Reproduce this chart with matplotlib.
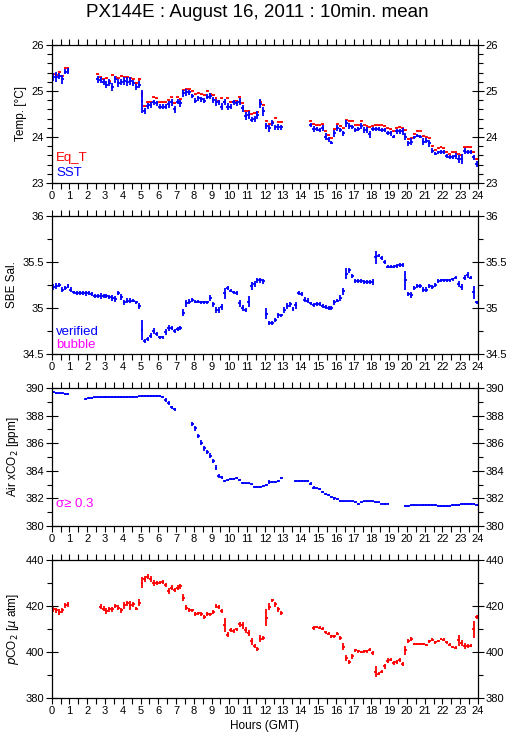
import numpy as np
import matplotlib
matplotlib.use("Agg")
import matplotlib.pyplot as plt
from matplotlib.ticker import MultipleLocator

nan = np.nan

# 10-minute means, slot 0 = 00:00-00:10 GMT
slots = np.arange(144)
hours = (slots + 0.5) / 6.0

# Temperature (deg C)
sst = [25.30, 25.31, 25.33, 25.25, 25.42, 25.44, nan, nan, nan, nan,
       nan, nan, nan, nan, nan, 25.25, 25.24, 25.20, 25.14, 25.18,
       25.09, 25.25, 25.17, 25.20, 25.22, 25.20, 25.22, 25.17, 25.09, 25.14,
       24.78, 24.57, 24.67, 24.70, 24.75, 24.73, 24.66, 24.66, 24.66, 24.71,
       24.75, 24.60, 24.77, 24.73, 24.95, 24.97, 24.97, 24.89, 24.79, 24.84,
       24.82, 24.79, 24.88, 24.89, 24.80, 24.75, 24.75, 24.66, 24.76, 24.66,
       24.66, 24.75, 24.73, 24.77, 24.62, 24.46, 24.48, 24.38, 24.39, 24.48,
       24.72, 24.56, 24.24, 24.19, 24.30, 24.21, 24.22, 24.21, nan, nan,
       nan, nan, nan, nan, nan, nan, nan, 24.26, 24.17, 24.17,
       24.15, 24.19, 24.01, 23.95, 23.88, 24.08, 24.19, 24.15, 24.08, 24.30,
       24.24, 24.21, 24.15, 24.17, 24.24, 24.15, 24.15, 24.06, 24.17, 24.17,
       24.17, 24.15, 24.15, 24.08, 24.08, 24.01, 24.12, 24.12, 24.12, 24.01,
       23.86, 23.90, 23.99, 24.03, 24.01, 23.90, 23.92, 23.86, 23.70, 23.64,
       23.67, 23.68, 23.68, 23.59, 23.56, 23.57, 23.59, 23.52, 23.52, 23.70,
       23.68, 23.68, 23.56, 23.41]
sst_sd = [0.09, 0.11, 0.07, 0.09, 0.06, 0.06, nan, nan, nan, nan,
          nan, nan, nan, nan, nan, 0.08, 0.07, 0.06, 0.07, 0.08,
          0.08, 0.08, 0.08, 0.07, 0.09, 0.10, 0.08, 0.07, 0.06, 0.08,
          0.25, 0.06, 0.07, 0.06, 0.06, 0.06, 0.06, 0.06, 0.06, 0.07,
          0.08, 0.08, 0.06, 0.07, 0.07, 0.08, 0.05, 0.05, 0.05, 0.06,
          0.05, 0.05, 0.06, 0.06, 0.07, 0.07, 0.06, 0.08, 0.06, 0.07,
          0.06, 0.06, 0.06, 0.08, 0.07, 0.09, 0.09, 0.06, 0.06, 0.09,
          0.10, 0.10, 0.07, 0.08, 0.06, 0.06, 0.06, 0.06, nan, nan,
          nan, nan, nan, nan, nan, nan, nan, 0.04, 0.06, 0.05,
          0.05, 0.07, 0.07, 0.05, 0.03, 0.08, 0.06, 0.05, 0.06, 0.08,
          0.07, 0.04, 0.05, 0.05, 0.07, 0.07, 0.07, 0.08, 0.05, 0.04,
          0.05, 0.05, 0.05, 0.04, 0.05, 0.04, 0.05, 0.05, 0.07, 0.07,
          0.05, 0.08, 0.04, 0.03, 0.04, 0.07, 0.05, 0.07, 0.05, 0.04,
          0.03, 0.04, 0.04, 0.04, 0.04, 0.04, 0.06, 0.08, 0.10, 0.07,
          0.04, 0.04, 0.05, 0.07]
eqt = [25.38, 25.35, 25.42, 25.33, 25.51, 25.51, nan, nan, nan, nan,
       nan, nan, nan, nan, nan, 25.36, 25.30, 25.25, 25.28, 25.22,
       25.35, 25.30, 25.28, 25.33, 25.30, 25.30, 25.28, 25.25, 25.18, 25.25,
       24.93, 24.67, 24.77, 24.77, 24.86, 24.84, 24.75, 24.75, 24.75, 24.80,
       24.86, 24.73, 24.86, 24.82, 25.02, 25.04, 25.04, 25.01, 24.93, 24.95,
       24.93, 24.91, 25.01, 24.93, 24.91, 24.84, 24.79, 24.84, 24.77, 24.84,
       24.77, 24.77, 24.79, 24.88, 24.73, 24.57, 24.57, 24.51, 24.53, 24.55,
       24.77, 24.70, 24.35, 24.28, 24.33, 24.42, 24.33, 24.33, nan, nan,
       nan, nan, nan, nan, nan, nan, nan, 24.35, 24.28, 24.25,
       24.25, 24.28, 24.13, 24.04, 23.97, 24.17, 24.28, 24.24, 24.19, 24.37,
       24.35, 24.35, 24.26, 24.26, 24.35, 24.26, 24.24, 24.21, 24.24, 24.25,
       24.25, 24.26, 24.24, 24.19, 24.17, 24.12, 24.20, 24.22, 24.19, 24.15,
       23.96, 23.97, 24.07, 24.14, 24.13, 24.02, 23.99, 23.97, 23.80, 23.72,
       23.75, 23.79, 23.75, 23.68, 23.63, 23.67, 23.67, 23.63, 23.61, 23.78,
       23.79, 23.78, 23.67, 23.52]
eqt_sd = [0.01, 0.01, 0.01, 0.01, 0.01, 0.01, nan, nan, nan, nan,
          nan, nan, nan, nan, nan, 0.01, 0.01, 0.01, 0.01, 0.01,
          0.01, 0.01, 0.01, 0.01, 0.01, 0.01, 0.01, 0.01, 0.02, 0.03,
          0.05, 0.01, 0.01, 0.01, 0.01, 0.01, 0.01, 0.01, 0.01, 0.01,
          0.01, 0.01, 0.01, 0.01, 0.01, 0.01, 0.01, 0.01, 0.01, 0.01,
          0.01, 0.01, 0.02, 0.01, 0.01, 0.01, 0.01, 0.01, 0.01, 0.01,
          0.01, 0.01, 0.01, 0.02, 0.01, 0.01, 0.01, 0.01, 0.01, 0.01,
          0.03, 0.01, 0.01, 0.01, 0.01, 0.01, 0.01, 0.01, nan, nan,
          nan, nan, nan, nan, nan, nan, nan, 0.01, 0.01, 0.01,
          0.01, 0.01, 0.01, 0.01, 0.01, 0.01, 0.01, 0.01, 0.01, 0.01,
          0.01, 0.01, 0.01, 0.01, 0.01, 0.01, 0.01, 0.01, 0.01, 0.01,
          0.01, 0.01, 0.01, 0.01, 0.01, 0.01, 0.01, 0.01, 0.01, 0.01,
          0.01, 0.01, 0.01, 0.01, 0.01, 0.01, 0.01, 0.01, 0.01, 0.01,
          0.01, 0.01, 0.01, 0.01, 0.01, 0.01, 0.01, 0.01, 0.01, 0.01,
          0.01, 0.01, 0.01, 0.01]

# SBE salinity
sal = [35.23, 35.24, 35.25, 35.20, 35.22, 35.24, 35.20, 35.17, 35.16, 35.16,
       35.16, 35.16, 35.16, 35.15, 35.13, 35.13, 35.13, 35.13, 35.13, 35.12,
       35.11, 35.10, 35.16, 35.12, 35.06, 35.08, 35.08, 35.08, 35.06, 35.02,
       34.76, 34.64, 34.66, 34.70, 34.75, 34.72, 34.68, 34.68, 34.74, 34.78,
       34.78, 34.75, 34.77, 34.78, 34.95, 35.05, 35.07, 35.09, 35.07, 35.07,
       35.06, 35.06, 35.06, 35.11, 35.04, 34.98, 34.98, 35.01, 35.16, 35.22,
       35.19, 35.17, 35.16, 35.05, 35.00, 34.98, 35.07, 35.24, 35.26, 35.30,
       35.30, 35.29, 34.94, 34.84, 34.84, 34.87, 34.92, 34.92, 34.98, 35.02,
       35.04, 34.99, 35.03, 35.16, 35.15, 35.09, 35.08, 35.05, 35.03, 35.04,
       35.04, 35.02, 35.01, 35.00, 35.00, 35.06, 35.08, 35.11, 35.18, 35.37,
       35.41, 35.35, 35.29, 35.29, 35.29, 35.28, 35.28, 35.28, 35.28, 35.55,
       35.57, 35.54, 35.50, 35.45, 35.45, 35.45, 35.46, 35.47, 35.47, 35.30,
       35.15, 35.14, 35.22, 35.24, 35.24, 35.20, 35.20, 35.24, 35.23, 35.25,
       35.29, 35.30, 35.30, 35.30, 35.30, 35.31, 35.33, 35.26, 35.23, 35.33,
       35.36, 35.33, 35.17, 35.06]
sal_sd = [0.03, 0.03, 0.02, 0.03, 0.02, 0.02, 0.03, 0.02, 0.02, 0.02,
          0.02, 0.03, 0.02, 0.02, 0.02, 0.02, 0.03, 0.02, 0.02, 0.02,
          0.03, 0.03, 0.02, 0.03, 0.03, 0.03, 0.03, 0.02, 0.02, 0.03,
          0.11, 0.02, 0.02, 0.03, 0.03, 0.02, 0.02, 0.02, 0.03, 0.03,
          0.02, 0.02, 0.02, 0.02, 0.04, 0.04, 0.03, 0.02, 0.02, 0.02,
          0.02, 0.02, 0.02, 0.03, 0.03, 0.03, 0.03, 0.03, 0.06, 0.02,
          0.02, 0.02, 0.02, 0.04, 0.03, 0.02, 0.06, 0.04, 0.03, 0.03,
          0.03, 0.03, 0.06, 0.02, 0.02, 0.02, 0.03, 0.02, 0.03, 0.03,
          0.03, 0.02, 0.04, 0.02, 0.02, 0.03, 0.03, 0.02, 0.02, 0.02,
          0.02, 0.02, 0.02, 0.02, 0.02, 0.03, 0.02, 0.03, 0.04, 0.06,
          0.03, 0.02, 0.02, 0.02, 0.02, 0.02, 0.02, 0.02, 0.03, 0.07,
          0.02, 0.02, 0.02, 0.02, 0.02, 0.02, 0.02, 0.02, 0.02, 0.10,
          0.02, 0.03, 0.02, 0.02, 0.02, 0.03, 0.03, 0.02, 0.02, 0.02,
          0.02, 0.02, 0.02, 0.02, 0.02, 0.02, 0.02, 0.03, 0.03, 0.03,
          0.03, 0.02, 0.07, 0.02]

# Air xCO2 (ppm)
xco2 = [389.71, 389.66, 389.61, 389.61, 389.57, 389.57, nan, nan, nan, nan,
        nan, 389.18, 389.28, 389.30, 389.32, 389.32, 389.33, 389.33, 389.33, 389.34,
        389.34, 389.34, 389.35, 389.35, 389.35, 389.36, 389.36, 389.37, 389.38, 389.39,
        389.40, 389.41, 389.42, 389.42, 389.42, 389.41, 389.40, 389.37, 389.13, 388.89,
        388.60, 388.45, nan, nan, nan, nan, nan, 387.39, 387.08, 386.52,
        386.04, 385.63, 385.34, 385.10, 384.71, 384.23, 383.65, 383.53, 383.26, 383.33,
        383.38, 383.43, 383.45, 383.33, 383.14, 383.09, 383.09, 383.02, 382.85, 382.80,
        382.85, 382.90, 382.95, 383.19, 383.22, 383.16, 383.26, 383.49, nan, nan,
        nan, nan, 383.25, 383.25, 383.25, 383.27, 383.27, 383.08, 382.79, 382.72,
        382.67, 382.48, 382.31, 382.24, 382.12, 382.00, 381.95, 381.83, 381.78, 381.78,
        381.78, 381.78, 381.71, 381.59, 381.71, 381.78, 381.78, 381.78, 381.78, 381.71,
        381.71, 381.63, 381.59, 381.63, nan, nan, nan, nan, nan, 381.42,
        381.47, 381.49, 381.54, 381.49, 381.49, 381.54, 381.54, 381.54, 381.54, 381.54,
        381.47, 381.47, 381.47, 381.47, 381.47, 381.51, 381.54, 381.54, 381.59, 381.59,
        381.61, 381.61, 381.61, 381.54]
xco2_sd = [0.08, 0.06, 0.06, 0.06, 0.06, 0.06, nan, nan, nan, nan,
           nan, 0.08, 0.07, 0.06, 0.06, 0.06, 0.06, 0.06, 0.06, 0.06,
           0.06, 0.06, 0.06, 0.06, 0.06, 0.06, 0.06, 0.06, 0.06, 0.06,
           0.06, 0.06, 0.06, 0.06, 0.06, 0.06, 0.06, 0.08, 0.12, 0.14,
           0.12, 0.12, nan, nan, nan, nan, nan, 0.14, 0.16, 0.16,
           0.20, 0.16, 0.14, 0.16, 0.16, 0.20, 0.14, 0.09, 0.08, 0.07,
           0.07, 0.07, 0.07, 0.08, 0.07, 0.06, 0.06, 0.06, 0.07, 0.07,
           0.06, 0.07, 0.07, 0.12, 0.07, 0.07, 0.07, 0.08, nan, nan,
           nan, nan, 0.07, 0.06, 0.06, 0.06, 0.07, 0.12, 0.08, 0.07,
           0.08, 0.09, 0.08, 0.08, 0.09, 0.08, 0.07, 0.06, 0.06, 0.06,
           0.06, 0.06, 0.06, 0.09, 0.06, 0.06, 0.06, 0.06, 0.06, 0.06,
           0.06, 0.07, 0.08, 0.06, nan, nan, nan, nan, nan, 0.07,
           0.06, 0.06, 0.06, 0.06, 0.06, 0.06, 0.06, 0.06, 0.06, 0.06,
           0.06, 0.06, 0.06, 0.06, 0.06, 0.06, 0.06, 0.06, 0.06, 0.06,
           0.06, 0.06, 0.06, 0.07]

# pCO2 (uatm)
pco2 = [418.5, 418.1, 417.4, 418.1, 420.3, 420.7, nan, nan, nan, nan,
        nan, nan, nan, nan, nan, nan, 419.7, 418.8, 417.8, 418.5,
        418.5, 420.0, 419.3, 418.1, 420.3, 421.2, 420.3, 420.7, 418.8, 421.5,
        430.2, 431.7, 432.8, 431.7, 429.9, 429.9, 430.2, 430.5, 429.1, 426.6,
        428.0, 427.0, 428.0, 428.5, 423.6, 419.3, 418.2, 418.1, 416.4, 416.8,
        416.4, 415.3, 416.4, 416.4, 417.4, 420.0, 419.6, 417.8, 411.7, 407.6,
        409.5, 409.1, 409.8, 412.0, 411.7, 409.5, 408.3, 404.7, 402.5, 401.3,
        405.7, 406.1, 414.9, 419.7, 422.5, 420.7, 418.5, 417.1, nan, nan,
        nan, nan, nan, nan, nan, nan, nan, nan, 410.5, 410.9,
        410.5, 410.1, 408.6, 408.0, 406.9, 406.9, 408.0, 406.1, 402.2, 397.4,
        395.6, 398.1, 400.7, 400.3, 400.0, 400.3, 400.3, 401.0, 399.6, 391.5,
        390.5, 391.5, 393.7, 396.2, 396.6, 395.2, 395.6, 396.6, 394.9, 400.7,
        404.7, 405.7, 403.5, 403.5, 403.5, 403.5, 403.2, 404.7, 405.4, 404.2,
        404.7, 405.7, 405.4, 404.2, 403.2, 402.2, 401.8, 405.0, 403.9, 402.5,
        402.5, 402.8, 409.8, 415.2]
pco2_sd = [1.2, 1.0, 1.5, 1.2, 1.0, 1.0, nan, nan, nan, nan,
           nan, nan, nan, nan, nan, nan, 1.2, 1.0, 1.2, 1.0,
           1.2, 1.0, 1.0, 1.2, 1.5, 1.0, 2.0, 1.0, 0.6, 1.5,
           2.5, 1.2, 1.0, 1.2, 1.2, 0.8, 0.8, 1.0, 1.0, 1.2,
           1.2, 1.0, 1.2, 1.2, 1.5, 1.0, 0.8, 0.8, 0.8, 0.6,
           0.8, 0.8, 0.8, 0.6, 0.8, 1.0, 0.8, 1.0, 3.0, 1.0,
           1.0, 1.0, 0.8, 1.2, 1.5, 1.2, 1.2, 1.5, 0.8, 0.8,
           1.5, 1.0, 3.6, 1.5, 0.6, 1.0, 1.2, 0.8, nan, nan,
           nan, nan, nan, nan, nan, nan, nan, nan, 0.8, 0.6,
           0.6, 0.6, 0.6, 0.6, 0.6, 0.6, 0.8, 0.8, 1.5, 1.5,
           0.8, 1.0, 0.6, 0.6, 0.6, 0.6, 0.6, 0.6, 0.8, 2.5,
           0.6, 0.6, 1.2, 1.0, 0.6, 0.8, 0.8, 0.8, 0.8, 2.0,
           1.0, 0.8, 0.4, 0.4, 0.4, 0.4, 0.4, 0.6, 0.6, 0.6,
           0.4, 0.6, 0.6, 0.6, 0.6, 0.6, 0.6, 2.5, 1.2, 1.2,
           0.8, 0.8, 3.6, 0.8]

BLUE = "#0000ff"
RED = "#ff0000"
MAG = "#ff00ff"

plt.rcParams["font.family"] = ["Liberation Sans", "DejaVu Sans"]

fig = plt.figure(figsize=(5.15, 7.39), dpi=100)
fig.text(0.5, 0.983, "PX144E : August 16, 2011 : 10min. mean",
         ha="center", va="center", fontsize=13.5)

left, width, height = 0.1004, 0.8278, 0.1867
bottoms = [0.7524, 0.5210, 0.2882, 0.0555]
axes = [fig.add_axes([left, b, width, height]) for b in bottoms]


def style(ax, ylim, major, minor, fmt):
    ax.set_xlim(0, 24)
    ax.set_ylim(*ylim)
    ax.xaxis.set_major_locator(MultipleLocator(1))
    ax.xaxis.set_minor_locator(MultipleLocator(0.5))
    ax.yaxis.set_major_locator(MultipleLocator(major))
    ax.yaxis.set_minor_locator(MultipleLocator(minor))
    ax.yaxis.set_major_formatter(fmt)
    ax.tick_params(axis="x", which="both", direction="out", length=4,
                   width=0.8, top=True, bottom=True, labelsize=8, pad=2)
    ax.tick_params(axis="y", which="major", direction="inout", length=9,
                   width=0.8, left=True, right=True, labelleft=True,
                   labelright=True, labelsize=8, pad=1)
    ax.tick_params(axis="y", which="minor", direction="out", length=3.5,
                   width=0.8, left=True, right=True)
    for s in ax.spines.values():
        s.set_linewidth(0.9)


def bars(ax, y, sd, color):
    ax.errorbar(hours, y, xerr=1 / 12, yerr=sd, fmt="none", ecolor=color,
                elinewidth=1.3, capsize=0)


fmt_g = lambda v, p: "%g" % v

# Temperature
ax = axes[0]
bars(ax, eqt, eqt_sd, RED)
bars(ax, sst, sst_sd, BLUE)
style(ax, (23, 26), 1, 0.2, fmt_g)
ax.set_ylabel("Temp. [°C]", fontsize=8.5, labelpad=3)
ax.text(0.01, 0.18, "Eq_T", color=RED, transform=ax.transAxes,
        fontsize=9.5, va="center")
ax.text(0.01, 0.075, "SST", color=BLUE, transform=ax.transAxes,
        fontsize=9.5, va="center")

# Salinity
ax = axes[1]
bars(ax, sal, sal_sd, BLUE)
style(ax, (34.5, 36), 0.5, 0.25, fmt_g)
ax.set_ylabel("SBE Sal.", fontsize=8.5, labelpad=3)
ax.text(0.01, 0.16, "verified", color=BLUE, transform=ax.transAxes,
        fontsize=9.5, va="center")
ax.text(0.01, 0.065, "bubble", color=MAG, transform=ax.transAxes,
        fontsize=9.5, va="center")

# Air xCO2
ax = axes[2]
bars(ax, xco2, xco2_sd, BLUE)
style(ax, (380, 390), 2, 1, fmt_g)
ax.set_ylabel("Air xCO$_2$ [ppm]", fontsize=8.5, labelpad=3)
ax.text(0.01, 0.16, "σ≥ 0.3", color=MAG, transform=ax.transAxes,
        fontsize=9.5, va="center")

# pCO2
ax = axes[3]
bars(ax, pco2, pco2_sd, RED)
style(ax, (380, 440), 20, 10, fmt_g)
ax.set_ylabel("$p$CO$_2$ [$\\mu$ atm]", fontsize=8.5, labelpad=3)
ax.set_xlabel("Hours (GMT)", fontsize=8.5, labelpad=3)

fig.savefig("out.png", dpi=100)
